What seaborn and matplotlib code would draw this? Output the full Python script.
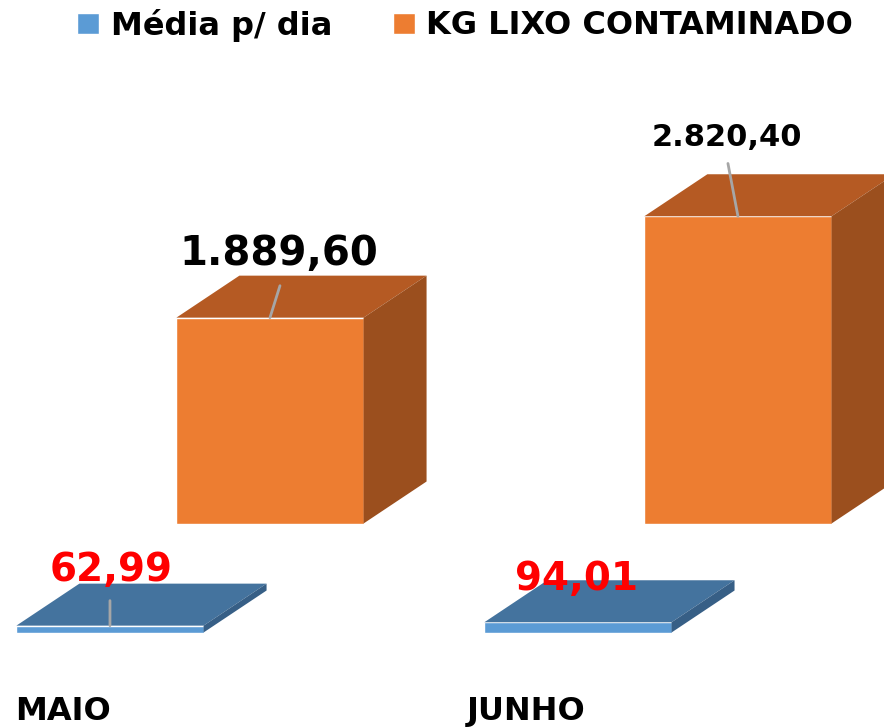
import numpy as np
import pandas as pd
import matplotlib
matplotlib.use("Agg")
import matplotlib.pyplot as plt
from matplotlib.patches import Polygon, Patch
import seaborn as sns

# dados
meses = ["MAIO", "JUNHO"]
series = ["Média p/ dia", "KG LIXO CONTAMINADO"]
media_dia = [62.99, 94.01]
kg_lixo = [1889.60, 2820.40]
rotulos_media = ["62,99", "94,01"]
rotulos_kg = ["1.889,60", "2.820,40"]

azul, azul_topo, azul_lado = "#5B9BD5", "#44739E", "#375F86"
laranja, laranja_topo, laranja_lado = "#ED7D31", "#B55A23", "#9B4F1E"
cinza = "#A6A6A6"

sns.set_style("white")
plt.rcParams["font.family"] = ["DejaVu Sans"]
plt.rcParams["text.color"] = "black"
plt.rcParams["xtick.color"] = "black"

W, H = 884, 728
fig = plt.figure(figsize=(W / 100, H / 100), dpi=100)
fig.patch.set_facecolor("white")

base = 95.5          # linha de base da fileira da frente (px a partir de baixo)
ymax = 5806
xlim = (-0.235, 1.654)

ax_back = fig.add_axes([160 / W, (base + 109) / H, 1, 1 - base / H])
ax_front = fig.add_axes([0, base / H, 1, 1 - base / H])
ax_back.set_zorder(0)
ax_front.set_zorder(1)
ax_front.patch.set_visible(False)
ax_back.patch.set_visible(False)

df_media = pd.DataFrame({"mes": meses, "valor": media_dia})
df_kg = pd.DataFrame({"mes": meses, "valor": kg_lixo})

sns.barplot(data=df_kg, x="mes", y="valor", ax=ax_back, color=laranja,
            width=0.4, saturation=1)
sns.barplot(data=df_media, x="mes", y="valor", ax=ax_front, color=azul,
            width=0.4, saturation=1)

for ax in (ax_back, ax_front):
    ax.set_xlim(*xlim)
    ax.set_ylim(0, ymax)
    ax.set_xlabel("")
    ax.set_ylabel("")
    ax.set_yticks([])
    for s in ax.spines.values():
        s.set_visible(False)


def faces_3d(ax, cor_topo, cor_lado, prof=(63, 42)):
    inv = ax.transData.inverted()
    d = inv.transform(prof) - inv.transform((0, 0))
    for bar in list(ax.patches):
        x0 = bar.get_x()
        x1 = x0 + bar.get_width()
        h = bar.get_height()
        topo = Polygon([(x0, h), (x1, h), (x1 + d[0], h + d[1]), (x0 + d[0], h + d[1])],
                       closed=True, fc=cor_topo, ec="none", clip_on=False)
        lado = Polygon([(x1, 0), (x1, h), (x1 + d[0], h + d[1]), (x1 + d[0], d[1])],
                       closed=True, fc=cor_lado, ec="none", clip_on=False)
        ax.add_patch(topo)
        ax.add_patch(lado)


faces_3d(ax_back, laranja_topo, laranja_lado)
faces_3d(ax_front, azul_topo, azul_lado)


def rotular(ax, valores, textos, offs, linhas, tamanhos, cor):
    for i, (v, t) in enumerate(zip(valores, textos)):
        if linhas[i] is not None:
            ax.annotate("", xy=(i, v), xytext=linhas[i], textcoords="offset points",
                        arrowprops=dict(arrowstyle="-", color=cinza, lw=2,
                                        shrinkA=0, shrinkB=0),
                        annotation_clip=False)
        ax.annotate(t, xy=(i, v), xytext=offs[i], textcoords="offset points",
                    ha="center", va="baseline", fontsize=tamanhos[i],
                    fontweight="bold", color=cor, annotation_clip=False)


rotular(ax_back, kg_lixo, rotulos_kg, [(6.5, 38), (-7.9, 50.4)],
        [(7.2, 23), (-7.2, 38)], [29, 22], "black")
rotular(ax_front, media_dia, rotulos_media, [(0.7, 32.4), (-1.4, 23)],
        [(0, 18), None], [28, 28], "#FF0000")

ax_back.set_xticks([])
ax_front.set_xticks(np.arange(len(meses)) - np.array([0.1, 0.11]), meses,
                    fontsize=23, fontweight="bold", color="black")
ax_front.tick_params(axis="x", length=0, pad=46)

fig.legend(handles=[Patch(fc=azul), Patch(fc=laranja)], labels=series,
           loc="center", bbox_to_anchor=(0.526, 1 - 25 / H), ncol=2,
           frameon=False, prop={"size": 23, "weight": "bold"},
           labelcolor="black",
           handlelength=0.7, handleheight=0.65, handletextpad=0.35,
           columnspacing=1.9)

fig.savefig("out.png", dpi=100)
